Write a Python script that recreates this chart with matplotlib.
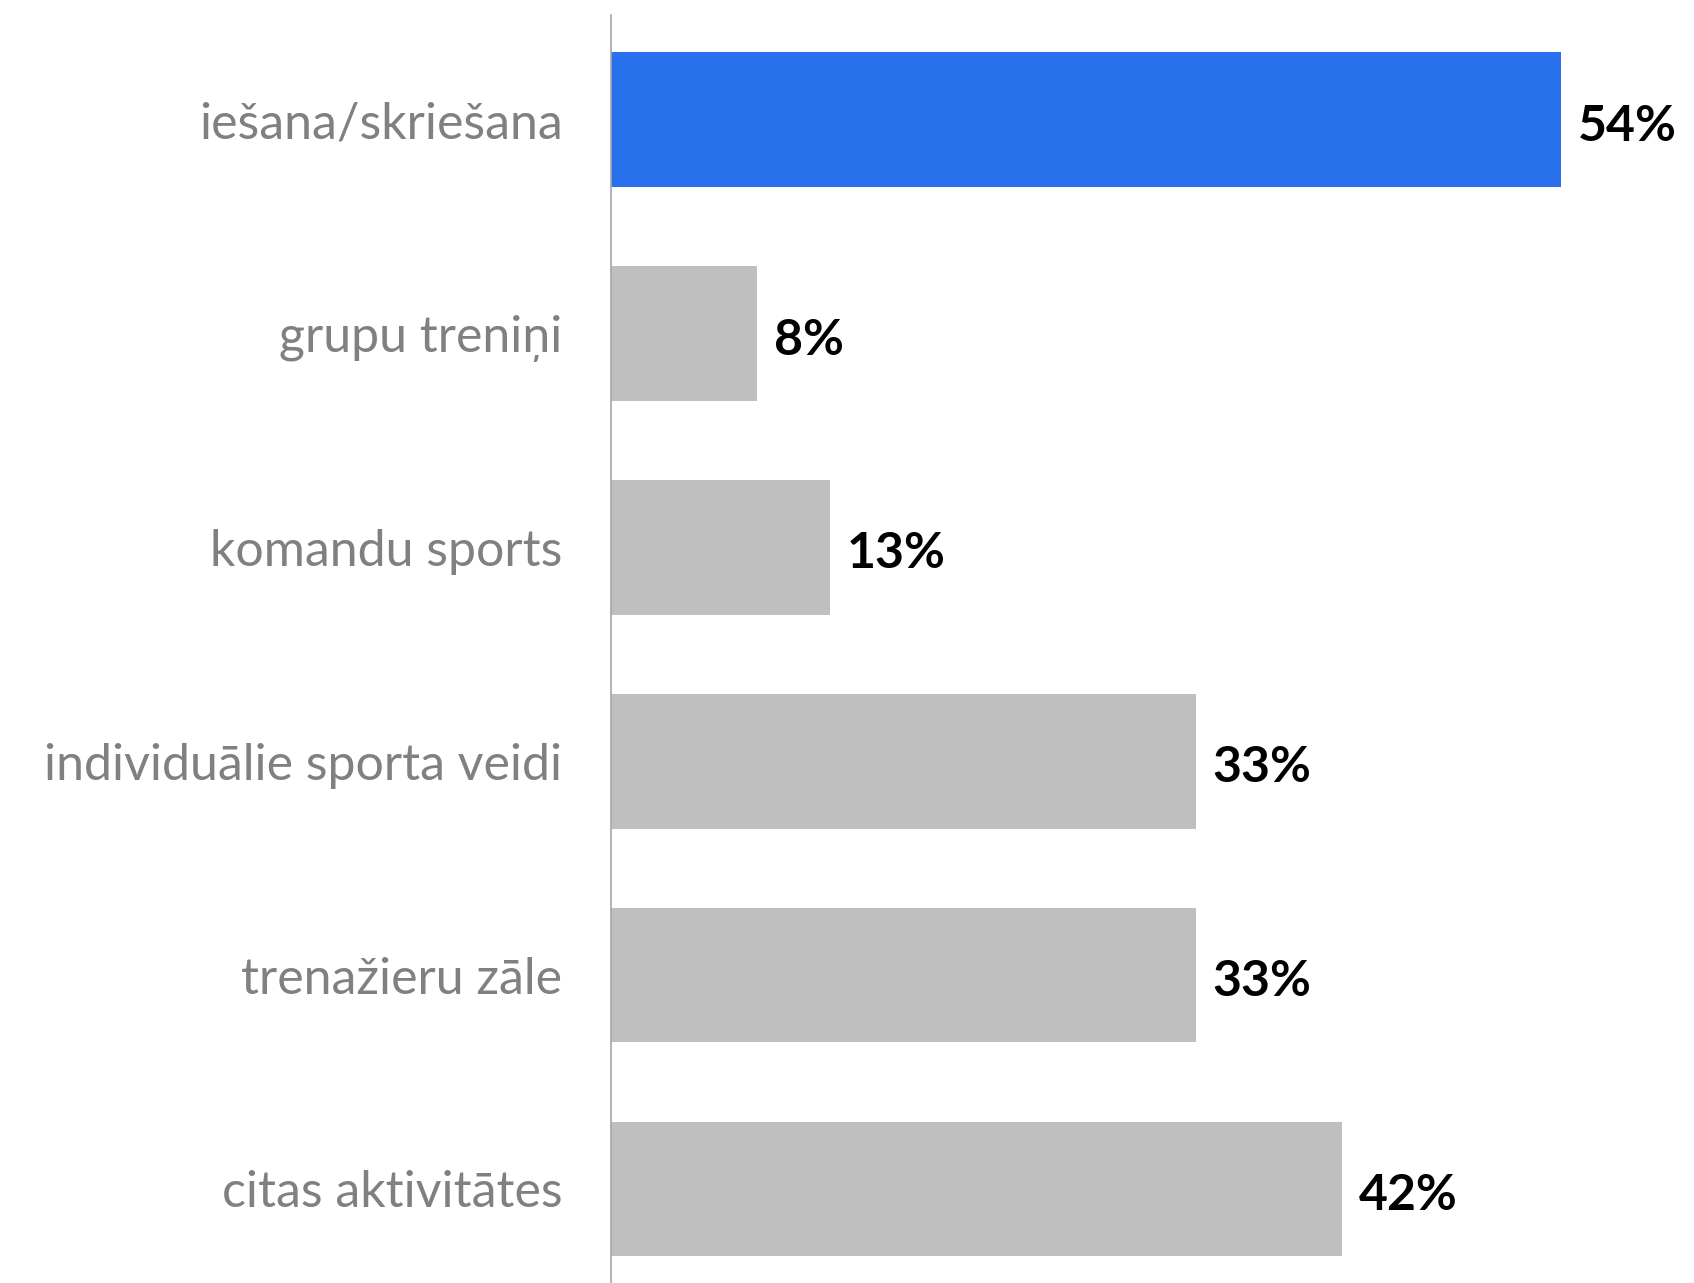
import matplotlib
matplotlib.use("Agg")
import matplotlib.pyplot as plt

# share of respondents (n=24) per activity
categories = ["iešana/skriešana", "grupu treniņi", "komandu sports",
              "individuālie sporta veidi", "trenažieru zāle", "citas aktivitātes"]
values = [54.17, 8.33, 12.5, 33.33, 33.33, 41.67]
labels = ["54%", "8%", "13%", "33%", "33%", "42%"]
colors = ["#2970ed", "#bfbfbf", "#bfbfbf", "#bfbfbf", "#bfbfbf", "#bfbfbf"]

W, H = 1694, 1283
fig = plt.figure(figsize=(W / 100, H / 100), dpi=100)
ax = fig.add_axes([611 / W, 0, 1 - 611 / W, 1 - 15 / H])

y = list(range(len(categories)))
ax.barh(y, values, height=0.63, color=colors)
for yi, v, lab in zip(y, values, labels):
    ax.text(v + 0.95, yi + 0.03, lab, va="center", ha="left", fontsize=36,
            fontweight="bold", color="black", family="Lato")

ax.set_xlim(0, (W - 611) / 17.54)
ax.set_ylim(len(categories) - 1 + 0.44, -0.49)
ax.set_yticks(y)
ax.set_yticklabels(categories, fontsize=36, color="#808080", family="Lato")
ax.tick_params(axis="y", length=0, pad=35)
ax.set_xticks([])
for s in ["top", "right", "bottom"]:
    ax.spines[s].set_visible(False)
ax.spines["left"].set_color("#a6a6a6")
ax.spines["left"].set_linewidth(1.2)

fig.savefig("out.png", dpi=100)
